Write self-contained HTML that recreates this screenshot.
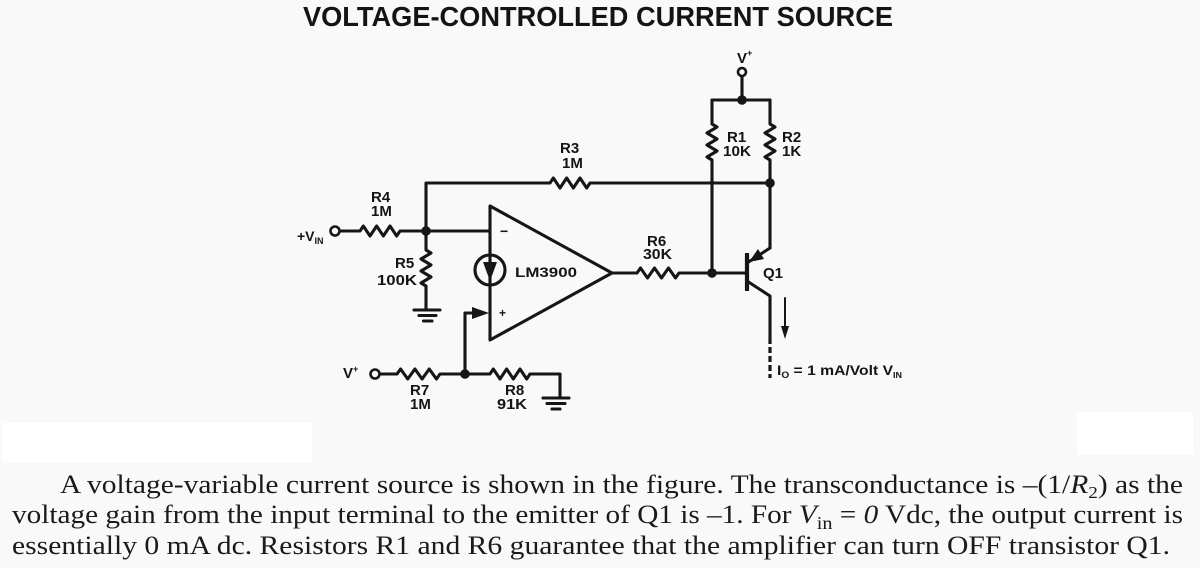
<!DOCTYPE html>
<html>
<head>
<meta charset="utf-8">
<style>
  html,body{margin:0;padding:0;background:#f9f9f9;}
  svg{display:block;}
  .lbl{font-family:"Liberation Sans",Arial,sans-serif;font-weight:bold;fill:#141414;}
  .txt{font-family:"Liberation Serif","Times New Roman",serif;fill:#1a1a1a;}
</style>
</head>
<body>
<svg width="1200" height="568" viewBox="0 0 1200 568" xmlns="http://www.w3.org/2000/svg">
  <rect x="0" y="0" width="1200" height="568" fill="#f9f9f9"/>
  <rect x="2" y="423" width="310" height="40" fill="#ffffff"/>
  <rect x="1077" y="412" width="116" height="43" fill="#ffffff"/>

  <!-- Title -->
  <text class="lbl" x="303" y="26" font-size="28" textLength="590" lengthAdjust="spacingAndGlyphs">VOLTAGE-CONTROLLED CURRENT SOURCE</text>

  <g fill="none" stroke="#161616" stroke-width="3.1" stroke-linejoin="round" stroke-linecap="round">
    <!-- V+ top and bus -->
    <path d="M742,76 V100 M712,100 H770"/>
    <!-- R1 -->
    <path d="M712,100 V124 l5,3 l-10,6 l10,6 l-10,6 l10,6 l-10,6 l5,3 V273"/>
    <!-- R2 -->
    <path d="M770,100 V124 l5,3 l-10,6 l10,6 l-10,6 l10,6 l-10,6 l5,3 V248"/>
    <!-- R3 feedback -->
    <path d="M426,231 V183 H550 l3.33,-5 l6.67,10 l6.67,-10 l6.67,10 l6.67,-10 l6.67,10 l3.33,-5 H770"/>
    <!-- R4 + inverting input -->
    <path d="M339.5,231 H360 l3.33,-5 l6.67,10 l6.67,-10 l6.67,10 l6.67,-10 l6.67,10 l3.33,-5 H490"/>
    <!-- R5 -->
    <path d="M426,231 V250 l5,3 l-10,6 l10,6 l-10,6 l10,6 l-10,6 l5,3 V310"/>
    <!-- ground R5 -->
    <path d="M414,310 H440 M419,315.5 H436 M423.5,321 H432"/>
    <!-- opamp -->
    <path d="M490,206 L490,340 L612,273 Z"/>
    <!-- current source circle -->
    <circle cx="490" cy="270" r="15"/>
    <!-- output to base via R6 -->
    <path d="M612,273 H637 l3.5,-5 l7,10 l7,-10 l7,10 l7,-10 l7,10 l3.5,-5 H747"/>
    <!-- emitter -->
    <path d="M747,263 L770,248"/>
    <!-- collector -->
    <path d="M747,281 L770,296 V338"/>
    <!-- non-inverting input -->
    <path d="M465,374 V313 H473"/>
    <!-- R7 / R8 -->
    <path d="M379.5,374 H397 l3.58,-5 l7.17,10 l7.17,-10 l7.17,10 l7.17,-10 l7.17,10 l3.58,-5 H490 l3.33,-5 l6.67,10 l6.67,-10 l6.67,10 l6.67,-10 l6.67,10 l3.33,-5 H560 V397"/>
    <!-- ground R8 -->
    <path d="M543,398 H569 M547,403.5 H565 M552,409 H560"/>
    <!-- Io arrow line -->
    <path d="M785,298 V328" stroke-width="2"/>
  </g>
  <!-- base bar -->
  <path d="M747,253 V291" stroke="#161616" stroke-width="4.2" fill="none"/>
  <!-- collector dashed -->
  <path d="M770,338 V378" stroke="#161616" stroke-width="3.2" stroke-dasharray="6 3" fill="none"/>

  <g fill="#161616" stroke="none">
    <!-- emitter arrowhead -->
    <polygon points="749,262 764,259 758,249"/>
    <!-- current source arrow -->
    <polygon points="483,262 497,262 490,281"/>
    <!-- non-inverting arrow -->
    <polygon points="472,307 472,319 489,313"/>
    <!-- Io arrowhead -->
    <polygon points="781,326 789,326 785,339"/>
    <!-- junction dots -->
    <circle cx="742" cy="100" r="4.8"/>
    <circle cx="770" cy="183" r="4.8"/>
    <circle cx="426" cy="231" r="4.8"/>
    <circle cx="712" cy="273" r="4.8"/>
    <circle cx="465" cy="374" r="4.8"/>
  </g>
  <!-- current source inner line -->
  <path d="M490,255 V285" stroke="#161616" stroke-width="2.2" fill="none"/>

  <!-- terminals -->
  <g fill="#f9f9f9" stroke="#161616" stroke-width="2.6">
    <circle cx="742" cy="72" r="4"/>
    <circle cx="335" cy="231" r="4.5"/>
    <circle cx="375" cy="374" r="4.5"/>
  </g>

  <!-- Labels -->
  <text class="lbl" x="737" y="63" font-size="15">V<tspan font-size="9" dy="-7">+</tspan></text>
  <text class="lbl" x="727" y="142" font-size="15">R1</text>
  <text class="lbl" x="723" y="156" font-size="15" textLength="28" lengthAdjust="spacingAndGlyphs">10K</text>
  <text class="lbl" x="782" y="142" font-size="15">R2</text>
  <text class="lbl" x="782" y="156" font-size="15">1K</text>
  <text class="lbl" x="560" y="153" font-size="15">R3</text>
  <text class="lbl" x="562" y="168" font-size="15">1M</text>
  <text class="lbl" x="371" y="202" font-size="15">R4</text>
  <text class="lbl" x="371" y="216" font-size="15">1M</text>
  <text class="lbl" x="297" y="241" font-size="14">+V<tspan font-size="9" dy="3">IN</tspan></text>
  <text class="lbl" x="395" y="268" font-size="15">R5</text>
  <text class="lbl" x="377" y="285" font-size="15" textLength="40" lengthAdjust="spacingAndGlyphs">100K</text>
  <text class="lbl" x="500" y="236" font-size="14">−</text>
  <text class="lbl" x="499" y="317" font-size="12">+</text>
  <text class="lbl" x="515" y="277" font-size="14" textLength="62" lengthAdjust="spacingAndGlyphs">LM3900</text>
  <text class="lbl" x="647" y="246" font-size="15">R6</text>
  <text class="lbl" x="643" y="259" font-size="15" textLength="29" lengthAdjust="spacingAndGlyphs">30K</text>
  <text class="lbl" x="763" y="278" font-size="15">Q1</text>
  <text class="lbl" x="777" y="375" font-size="14" textLength="125" lengthAdjust="spacingAndGlyphs">I<tspan font-size="9" dy="3">O</tspan><tspan dy="-3"> = 1 mA/Volt V</tspan><tspan font-size="8" dy="3">IN</tspan></text>
  <text class="lbl" x="343" y="378" font-size="15">V<tspan font-size="9" dy="-6">+</tspan></text>
  <text class="lbl" x="410" y="395" font-size="15">R7</text>
  <text class="lbl" x="410" y="409" font-size="15">1M</text>
  <text class="lbl" x="505" y="395" font-size="15">R8</text>
  <text class="lbl" x="497" y="409" font-size="15" textLength="30" lengthAdjust="spacingAndGlyphs">91K</text>

  <!-- Paragraph -->
  <text class="txt" x="60" y="493" font-size="26" textLength="1123" lengthAdjust="spacingAndGlyphs">A voltage-variable current source is shown in the figure. The transconductance is –(1/<tspan font-style="italic">R</tspan><tspan font-size="17" dy="5">2</tspan><tspan dy="-5">) as the</tspan></text>
  <text class="txt" x="12" y="523" font-size="26" textLength="1171" lengthAdjust="spacingAndGlyphs">voltage gain from the input terminal to the emitter of Q1 is –1. For <tspan font-style="italic">V</tspan><tspan font-size="18" dy="6">in</tspan><tspan dy="-6"> = </tspan><tspan font-style="italic">0</tspan> Vdc, the output current is</text>
  <text class="txt" x="12" y="554" font-size="26" textLength="1158" lengthAdjust="spacingAndGlyphs">essentially 0 mA dc. Resistors R1 and R6 guarantee that the amplifier can turn OFF transistor Q1.</text>
</svg>
</body>
</html>
